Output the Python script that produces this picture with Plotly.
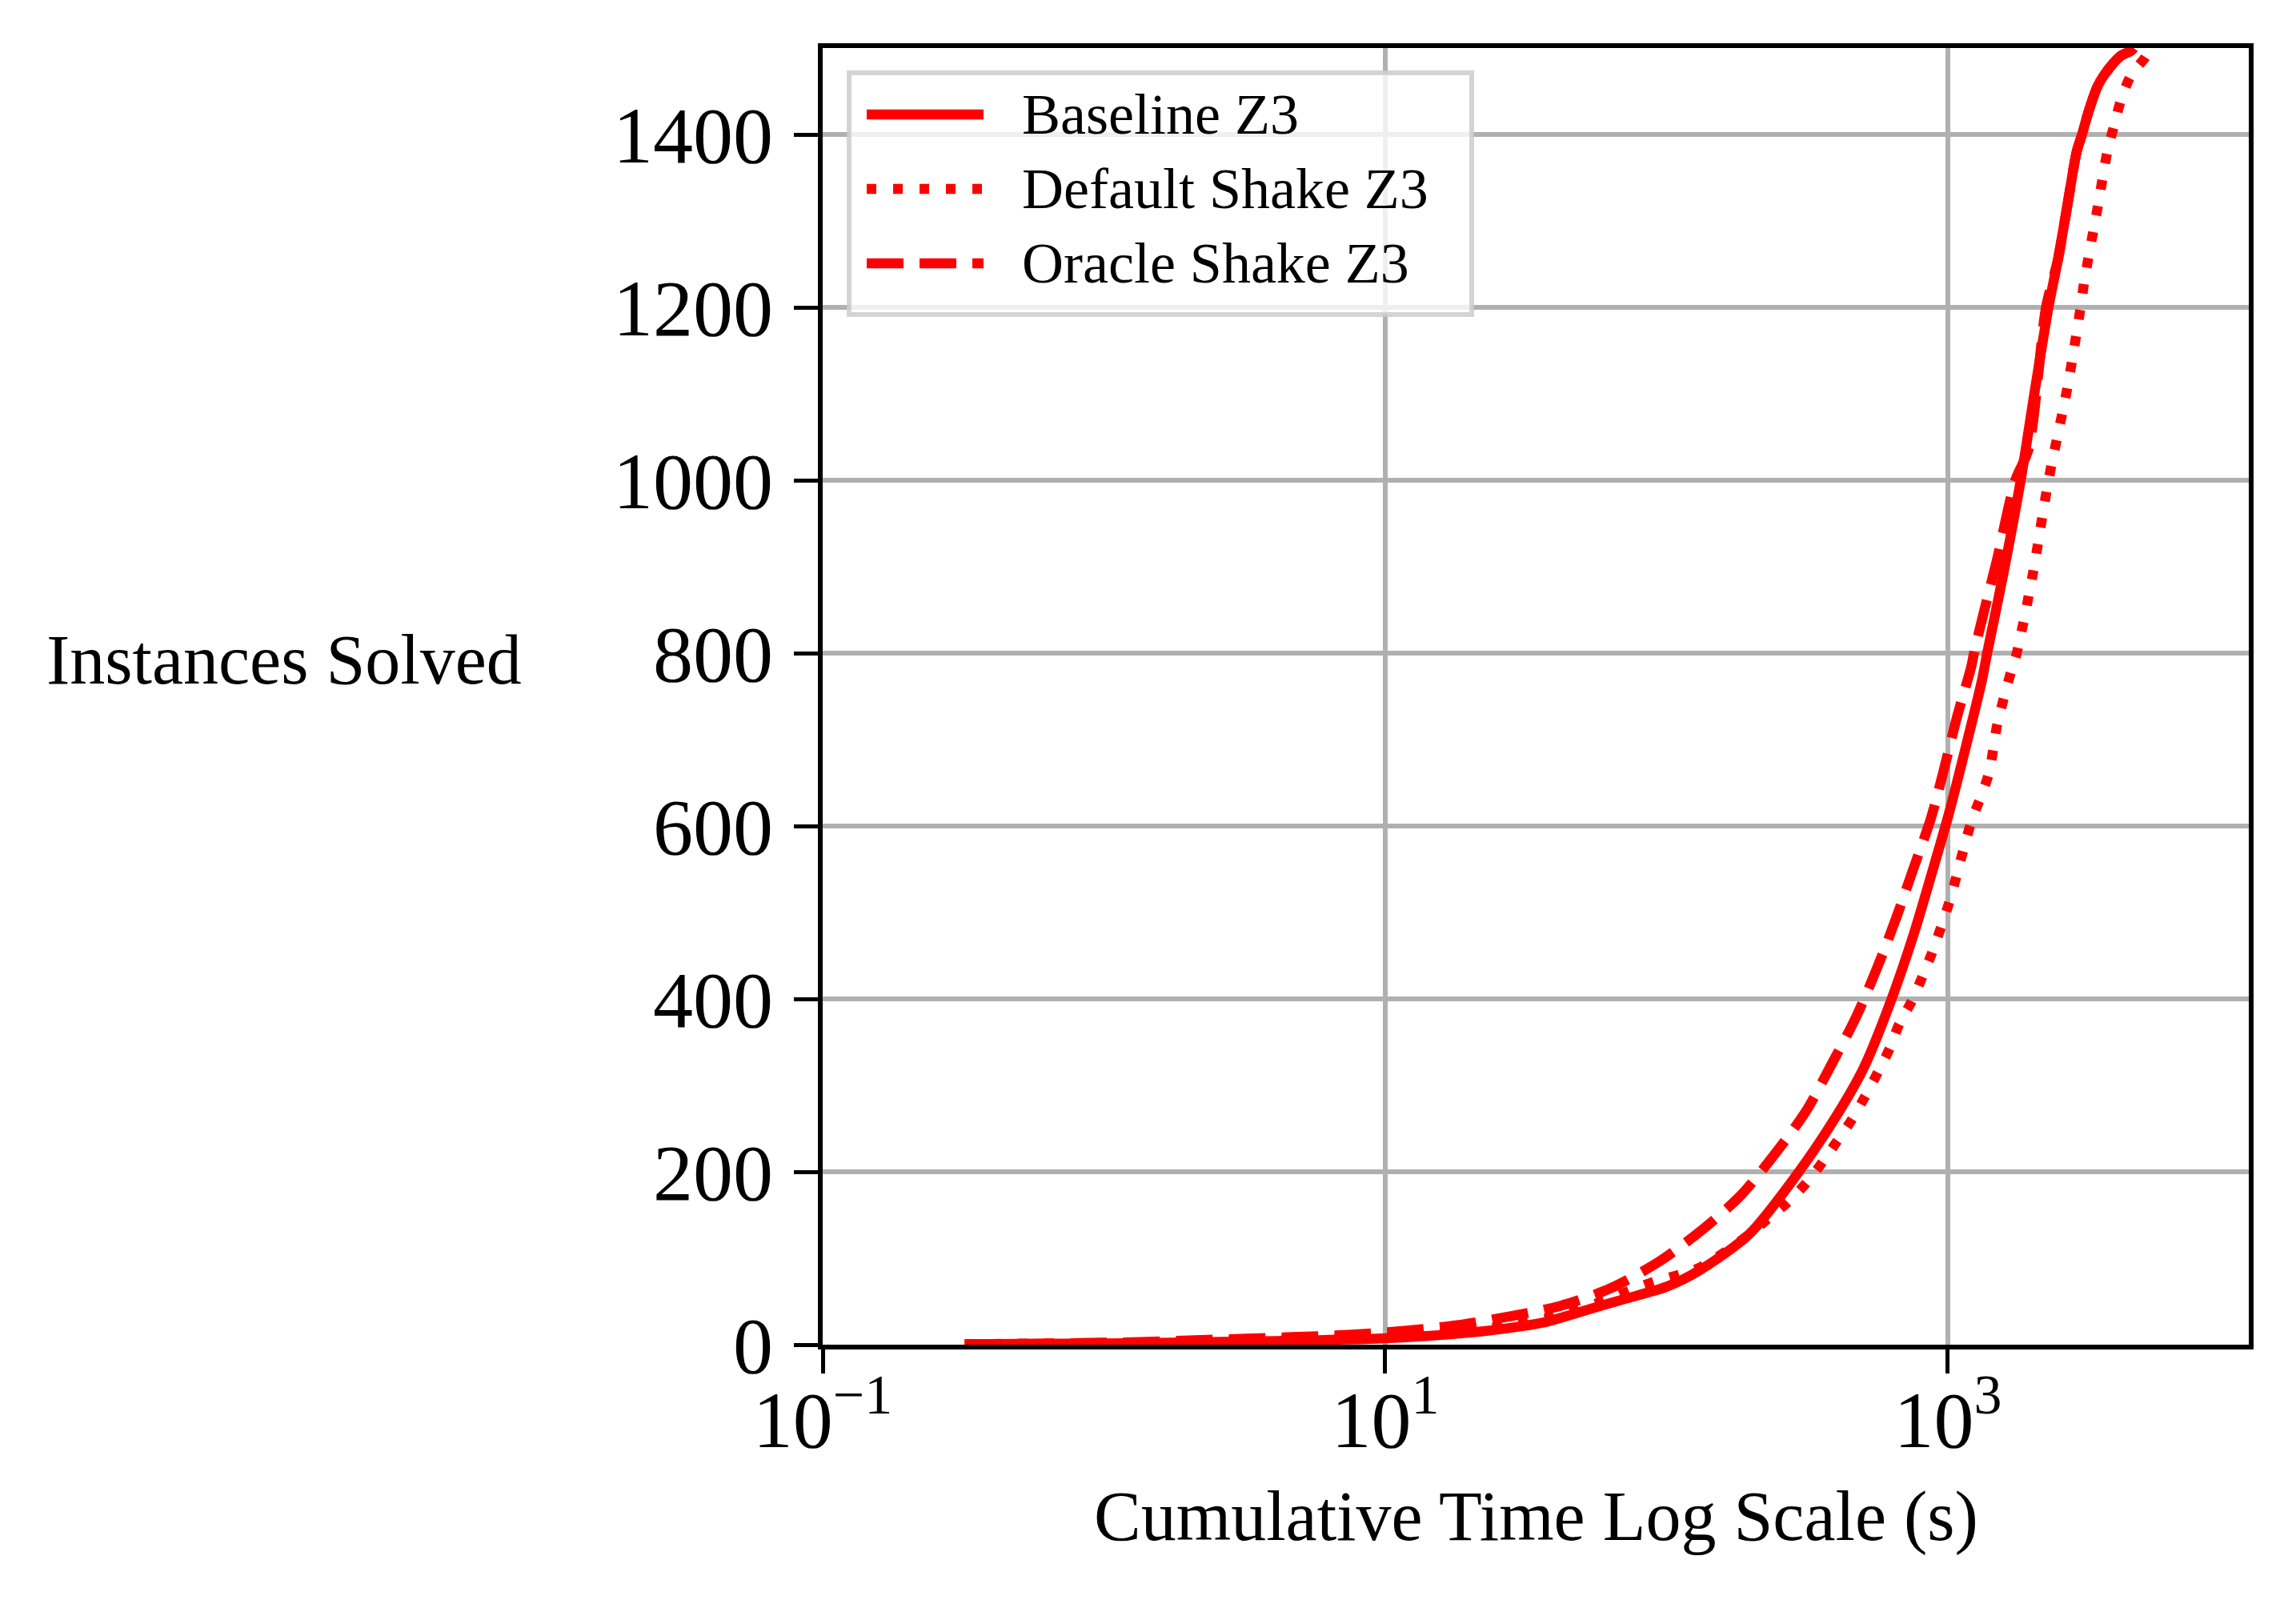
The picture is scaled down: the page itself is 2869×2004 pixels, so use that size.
import plotly.graph_objects as go

# ---------------- data ----------------
series_names = ["Baseline Z3", "Default Shake Z3", "Oracle Shake Z3"]
series_dash = ["solid", "12px,21px", "46px,20px"]

baseline_time = [0.32, 1, 3, 10, 20, 30, 37, 57, 73, 100, 131, 197, 288, 397, 502, 615,
                 755, 873, 1010, 1170, 1321, 1380, 1574, 1816, 2046, 2280, 2466, 2661,
                 2871, 3000, 3162, 3420, 3776, 4121, 4487, 4571]
baseline_solved = [0.5, 1.5, 3.5, 7.5, 14, 21, 26, 44, 54, 67, 86, 128, 195, 262, 320, 390,
                   474, 543, 615, 697, 768, 800, 891, 1000, 1107, 1200, 1256, 1318,
                   1380, 1400, 1426, 1457, 1478, 1491, 1497, 1500]

default_time = [0.32, 1, 3, 10, 20, 30, 42, 59, 87, 131, 194, 228, 267, 314, 358, 403, 453,
                501, 564, 624, 671, 743, 813, 880, 1010, 1205, 1397, 1500, 1683, 1758,
                2004, 2280, 2661, 2965, 3062, 3420, 3690, 3899, 4140, 4487, 5070, 5129]
default_solved = [0.5, 2, 4.5, 9, 16, 24, 34, 50, 71, 89, 126, 145, 163.5, 187, 211, 235, 259,
                  283.6, 315, 344, 370.6, 397, 426, 454, 511, 602, 660, 718, 780, 800,
                  891, 1000, 1107, 1200, 1232, 1318, 1380, 1410, 1441.5, 1469, 1491, 1500]

oracle_time = [0.32, 0.56, 0.87, 1.34, 2.1, 3.2, 4.9, 7.6, 11.7, 18, 28, 42, 63, 94, 134, 184,
               246, 313, 387, 472, 564, 656, 755, 869, 968, 1078, 1213, 1239, 1337, 1493,
               1738, 1936, 2234, 2466, 2661, 2871, 3000, 3162, 3420, 3776, 4121, 4487, 4571]
oracle_solved = [0.5, 1, 2, 3, 5, 7, 9, 11.5, 16, 22.5, 33, 45, 65, 96, 133, 173,
                 223, 270, 325, 379, 438, 494, 551, 608, 665, 726, 785, 800, 845, 907,
                 1000, 1036, 1200, 1256, 1318, 1380, 1400, 1426, 1457, 1478, 1491, 1497, 1500]

x_tick_vals = [0.1, 10, 1000]
x_tick_text = ["10<sup>\u22121</sup>", "10<sup>1</sup>", "10<sup>3</sup>"]
y_tick_vals = [0, 200, 400, 600, 800, 1000, 1200, 1400]

x_title = "Cumulative Time Log Scale (s)"
y_title = "Instances Solved"

# ---------------- figure ----------------
FONT = "Liberation Serif, DejaVu Serif, serif"
RED = "#ff0000"
LW = 12.5

fig = go.Figure()
for name, dash, xs, ys in zip(series_names, series_dash,
                              [baseline_time, default_time, oracle_time],
                              [baseline_solved, default_solved, oracle_solved]):
    fig.add_trace(go.Scatter(x=xs, y=ys, mode="lines", name=name, showlegend=False,
                             line=dict(color=RED, width=LW, dash=dash,
                                       shape="spline", smoothing=0.8)))

# target plot area in window pixels; the page body has an 8px margin
OFF = 8
WIN_W, WIN_H = 2869, 2004
PX0, PX1, PY0, PY1 = 1028, 2810, 60, 1680
W, H = WIN_W - OFF, WIN_H - OFF
L, T = PX0 - OFF, PY0 - OFF
R, B = W - (PX1 - OFF), H - (PY1 - OFF)
pw, ph = PX1 - PX0, PY1 - PY0


def px_to_paper_x(px):
    return (px - PX0) / pw


def px_to_paper_y(py):
    return (PY1 - py) / ph


fig.update_layout(
    width=W, height=H, autosize=False,
    margin=dict(l=L, r=R, t=T, b=B, pad=0),
    paper_bgcolor="white", plot_bgcolor="white",
    font=dict(family=FONT, color="black"),
    showlegend=False,
)

fig.update_xaxes(
    type="log", range=[-1, 4.07],
    tickvals=x_tick_vals, ticktext=x_tick_text,
    tickfont=dict(size=100, family=FONT, color="black"),
    ticks="outside", ticklen=30, tickwidth=5, tickcolor="black",
    ticklabelstandoff=-28,
    showgrid=True, gridcolor="#b0b0b0", gridwidth=6,
    showline=True, linecolor="black", linewidth=6, mirror=True,
    zeroline=False,
)
fig.update_yaxes(
    range=[0, 1500],
    tickvals=y_tick_vals,
    tickfont=dict(size=100, family=FONT, color="black"),
    ticks="outside", ticklen=30, tickwidth=5, tickcolor="black",
    ticklabelstandoff=6,
    showgrid=True, gridcolor="#b0b0b0", gridwidth=6,
    showline=True, linecolor="black", linewidth=6, mirror=True,
    zeroline=False,
)

annotations = [
    dict(text=x_title, xref="paper", yref="paper", x=0.5, y=px_to_paper_y(1895),
         xanchor="center", yanchor="middle", showarrow=False,
         font=dict(size=88, family=FONT, color="black")),
    dict(text=y_title, xref="paper", yref="paper", x=px_to_paper_x(56), y=px_to_paper_y(824),
         xanchor="left", yanchor="middle", showarrow=False,
         font=dict(size=88, family=FONT, color="black")),
]

# manual legend (matplotlib style, long line samples)
shapes = [
    dict(type="rect", xref="paper", yref="paper", layer="above",
         x0=px_to_paper_x(1061), x1=px_to_paper_x(1839),
         y0=px_to_paper_y(393), y1=px_to_paper_y(91),
         fillcolor="rgba(255,255,255,0.8)",
         line=dict(color="rgba(204,204,204,0.85)", width=6)),
]
row_y = [143, 236, 329]
for name, dash, ry in zip(series_names, series_dash, row_y):
    shapes.append(dict(type="line", xref="paper", yref="paper", layer="above",
                       x0=px_to_paper_x(1083), x1=px_to_paper_x(1229),
                       y0=px_to_paper_y(ry), y1=px_to_paper_y(ry),
                       line=dict(color=RED, width=LW, dash=dash)))
    annotations.append(dict(text=name, xref="paper", yref="paper",
                            x=px_to_paper_x(1275), y=px_to_paper_y(ry),
                            xanchor="left", yanchor="middle", showarrow=False,
                            font=dict(size=72, family=FONT, color="black")))

fig.update_layout(shapes=shapes, annotations=annotations)

fig.write_html("out.html")
